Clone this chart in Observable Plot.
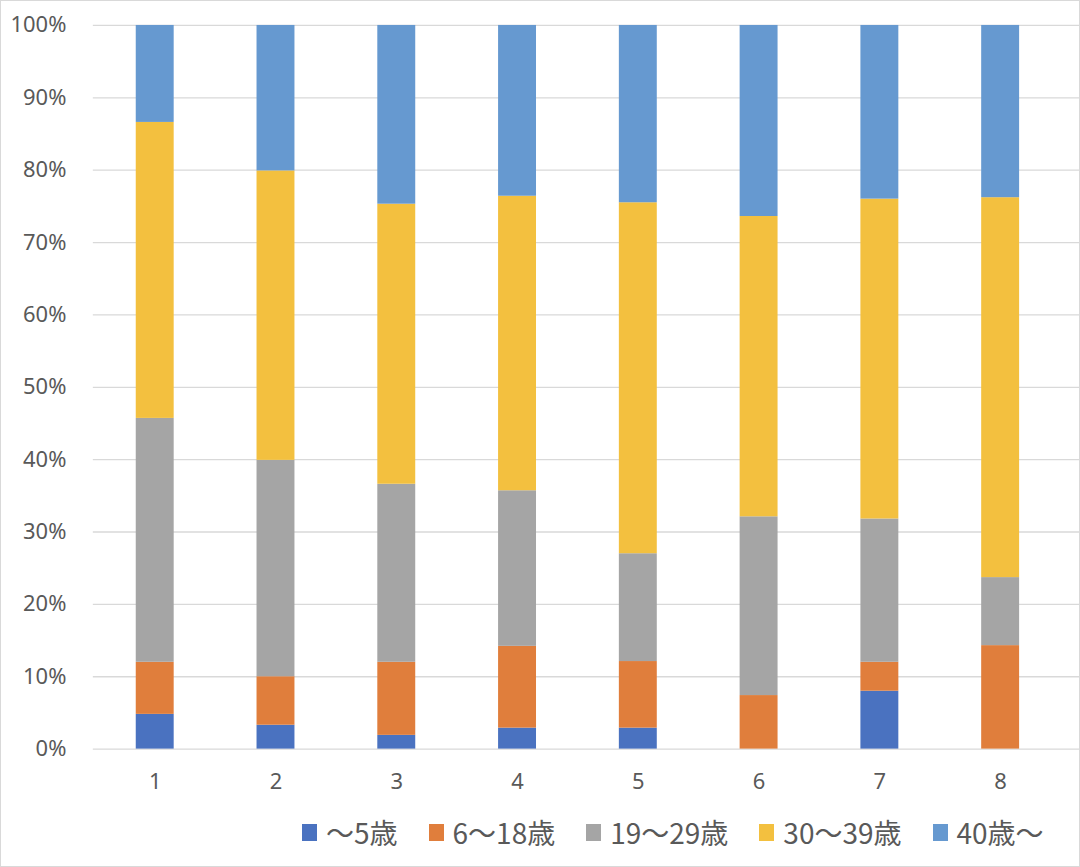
<!DOCTYPE html>
<html><head><meta charset="utf-8">
<script src="https://cdn.jsdelivr.net/npm/d3@7"></script>
<script src="https://cdn.jsdelivr.net/npm/@observablehq/plot@0.6"></script>
<style>
html,body{margin:0;padding:0;background:#fff;}
#wrap{position:relative;width:1080px;height:867px;box-sizing:border-box;border:1px solid #d9d9d9;overflow:hidden;font-family:"Noto Sans CJK JP","Noto Sans",sans-serif;}
#chart{position:absolute;left:-1px;top:-1px;}
#legend{position:absolute;left:301px;top:811px;display:flex;align-items:center;font-size:28px;color:#595959;line-height:40px;}
.item{display:flex;align-items:center;margin-right:31px;}
.sw{width:15px;height:17px;margin-right:9px;}
</style></head>
<body><div id="wrap"><div id="chart"></div><div id="legend"></div></div>
<script>
const categories = ["1","2","3","4","5","6","7","8"];
const seriesNames = ["～5歳","6～18歳","19～29歳","30～39歳","40歳～"];
const seriesColors = ["#4a72c0","#e07e3c","#a5a5a5","#f3c03f","#6699d0"];
const age0_5   = [4.8, 3.3, 1.9, 2.9, 2.9, 0.0, 8.0, 0.0];
const age6_18  = [7.2, 6.7, 10.1, 11.3, 9.2, 7.4, 4.0, 14.3];
const age19_29 = [33.7, 29.9, 24.6, 21.5, 14.9, 24.7, 19.8, 9.4];
const age30_39 = [40.9, 40.0, 38.7, 40.7, 48.5, 41.5, 44.2, 52.5];
const age40    = [13.4, 20.1, 24.7, 23.6, 24.5, 26.4, 24.0, 23.8];
const yTicks = [0,0.1,0.2,0.3,0.4,0.5,0.6,0.7,0.8,0.9,1.0];

const seriesValues = [age0_5, age6_18, age19_29, age30_39, age40];
const data = [];
seriesNames.forEach((s, i) => categories.forEach((c, j) => data.push({cat: c, series: s, value: seriesValues[i][j]})));

const plot = Plot.plot({
  width: 1081, height: 800,
  marginLeft: 93, marginRight: 17, marginTop: 25, marginBottom: 50,
  style: {fontFamily: '"Noto Sans","Open Sans",sans-serif', fontSize: "22px", color: "#595959", background: "transparent"},
  x: {domain: categories, paddingInner: 0.69, paddingOuter: 0.345, label: null},
  y: {domain: [0, 1], label: null},
  color: {domain: seriesNames, range: seriesColors},
  marks: [
    Plot.ruleY(yTicks, {stroke: "#d9d9d9", strokeWidth: 1.3, insetRight: -17}),
    Plot.barY(data, Plot.stackY({offset: "normalize", order: null}, {x: "cat", y: "value", fill: "series"})),
    Plot.axisX({tickSize: 0, tickPadding: 24, fontSize: 22}),
    Plot.axisY({ticks: yTicks, tickFormat: d3.format(".0%"), tickSize: 0, tickPadding: 27, fontSize: 22})
  ]
});
document.getElementById("chart").appendChild(plot);

const legend = document.getElementById("legend");
seriesNames.forEach((s, i) => {
  const it = document.createElement("div"); it.className = "item";
  const sw = document.createElement("div"); sw.className = "sw"; sw.style.background = seriesColors[i];
  const t = document.createElement("span"); t.textContent = s;
  it.appendChild(sw); it.appendChild(t); legend.appendChild(it);
});
</script></body></html>
